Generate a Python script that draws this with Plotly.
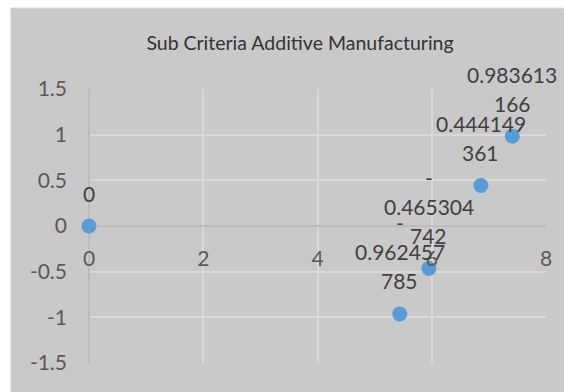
import plotly.graph_objects as go

# Sub-criteria scores (x position, score)
x_vals = [0, 5.44, 5.95, 6.86, 7.41]
y_vals = [0, -0.962457785, -0.465304742, 0.444149361, 0.983613166]

x_ticks = [0, 2, 4, 6, 8]
y_ticks = [-1.5, -1, -0.5, 0, 0.5, 1, 1.5]
y_tick_text = ["-1.5", "-1", "-0.5", "0", "0.5", "1", "1.5"]

title_text = "Sub Criteria Additive Manufacturing"


def wrap_label(v, width=8):
    """Break a long number into short lines the way a narrow data label wraps."""
    s = repr(v) if v != 0 else "0"
    lines = []
    if s.startswith("-"):
        lines.append("-")
        s = s[1:]
    while s:
        lines.append(s[:width])
        s = s[width:]
    return lines


W, H = 564, 392
L, R, T, B = 89, 13, 89, 29
pw, ph = W - L - R, H - T - B


def px_x(p):
    return (p - L) / pw


def px_y(p):
    return (H - B - p) / ph


BG = "#c9c9c9"
GRID = "#d9d9d9"
AXIS = "#bcbcbc"
FONT = "Lato"
LABEL_SIZE = 21
FIRST_OFFSET = 33   # px from marker centre to the lowest label line
LINE_STEP = 29      # px between wrapped label lines

fig = go.Figure()
fig.add_trace(go.Scatter(
    x=x_vals, y=y_vals, mode="markers",
    marker=dict(size=15, color="#5b9bd5"),
    cliponaxis=False, showlegend=False,
))

annotations = []
for xv, yv in zip(x_vals, y_vals):
    lines = wrap_label(yv)
    for k, line in enumerate(reversed(lines)):
        annotations.append(dict(
            x=xv, y=yv, xref="x", yref="y", text=line, showarrow=False,
            xanchor="center", yanchor="middle",
            yshift=FIRST_OFFSET + LINE_STEP * k,
            font=dict(family=FONT, size=LABEL_SIZE, color="#404040"),
        ))

fig.update_layout(
    width=W, height=H,
    margin=dict(l=L, r=R, t=T, b=B),
    paper_bgcolor="white",
    plot_bgcolor=BG,
    title=dict(text=title_text, x=300 / W, xref="container", xanchor="center",
               y=1 - 43 / H, yref="container", yanchor="middle",
               font=dict(family=FONT, size=19.5, color="#333333")),
    shapes=[dict(type="rect", xref="paper", yref="paper",
                 x0=px_x(10), x1=px_x(580), y0=px_y(410), y1=px_y(8),
                 fillcolor=BG, line=dict(color=GRID, width=1), layer="below")],
    annotations=annotations,
    xaxis=dict(range=[0, 8], tickvals=x_ticks, showgrid=True, gridcolor=GRID,
               gridwidth=1.5, zeroline=True, zerolinecolor=AXIS, zerolinewidth=1.5,
               showline=False, anchor="free", position=0.5, ticks="",
               ticklabelstandoff=18,
               tickfont=dict(family=FONT, size=21, color="#595959")),
    yaxis=dict(range=[-1.5, 1.5], tickvals=y_ticks, ticktext=y_tick_text,
               showgrid=True, gridcolor=GRID,
               gridwidth=1.5, zeroline=True, zerolinecolor=AXIS, zerolinewidth=1.5,
               showline=False, ticks="", ticklabelstandoff=21,
               tickfont=dict(family=FONT, size=21, color="#595959")),
)

fig.write_html("out.html")
